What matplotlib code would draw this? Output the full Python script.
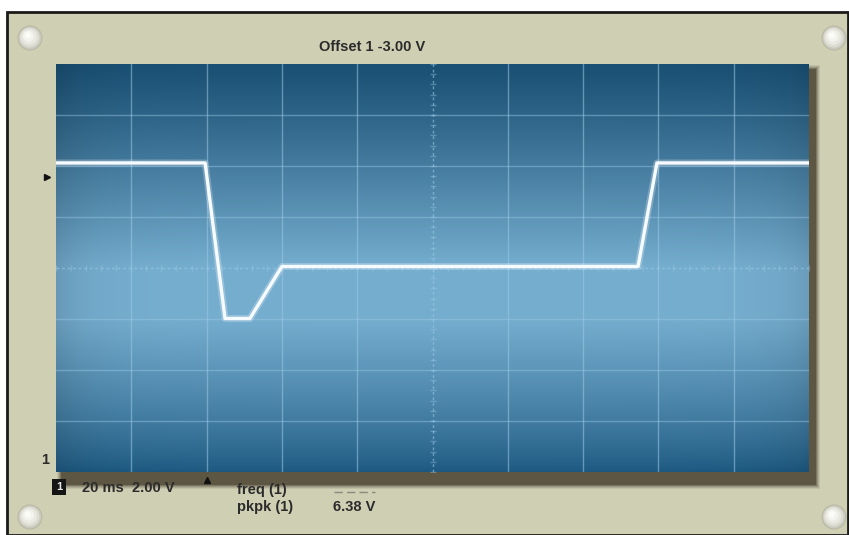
import numpy as np
import matplotlib
matplotlib.use("Agg")
import matplotlib.pyplot as plt
from matplotlib.patches import Rectangle, Circle

# -------------------- trace (time in ms, screen volts)
TIME_MS = [0.0, 39.6, 44.9, 51.5, 60.0, 154.6, 159.6, 200.0]
VOLTS = [4.12, 4.12, -1.98, -1.98, 0.06, 0.06, 4.12, 4.12]

MS_PER_DIV = 20
V_PER_DIV = 2.0
N_XDIV, N_YDIV = 10, 8

TITLE = "Offset 1 -3.00 V"
SCALE_TXT = "20 ms  2.00 V"
MEAS_NAMES = ["freq (1)", "pkpk (1)"]
MEAS_VALUES = ["", "6.38 V"]

W, H = 849, 535
PANEL = "#cfcfb4"
FONT = "Liberation Sans"

fig = plt.figure(figsize=(W / 100, H / 100), dpi=100)
fig.patch.set_facecolor("white")

# -------------------- panel in pixel coordinates
bg = fig.add_axes([0, 0, 1, 1])
bg.set_xlim(0, W)
bg.set_ylim(H, 0)
bg.axis("off")

bg.add_patch(Rectangle((7, 12), W - 8, H - 12, facecolor=PANEL,
                       edgecolor="#1a1a1a", lw=2.0, zorder=0))

# drop shadow under the screen
for i, a in enumerate([0.10, 0.14, 0.2, 0.3, 0.5]):
    d = 5 - i
    bg.add_patch(Rectangle((62 - d, 70 - d), 753 + 2 * d, 414 + 2 * d,
                           facecolor="#3f3726", edgecolor="none",
                           alpha=a, zorder=1))


def screw(x, y):
    bg.add_patch(Circle((x, y), 12.5, facecolor="#a9a996", edgecolor="none",
                        alpha=0.6, zorder=2))
    for r, c in [(11.5, "#c9c9bd"), (10, "#dcdcd2"), (8, "#e9e9e2"),
                 (5.5, "#f4f4ef"), (3, "#fbfbf8")]:
        bg.add_patch(Circle((x - (11.5 - r) * 0.25, y - (11.5 - r) * 0.3), r,
                            facecolor=c, edgecolor="none", zorder=3))


for sx, sy in [(30, 38), (834, 38), (30, 517), (834, 517)]:
    screw(sx, sy)

txt = dict(fontfamily=FONT, fontsize=10.5, fontweight="bold",
           color="#2b2b2b", va="center")
bg.text(372, 47, TITLE, ha="center", **txt)
bg.text(45, 460, "1", ha="center", **txt)
bg.plot([47], [177], marker=">", ms=5, color="#111", zorder=4)

bg.add_patch(Rectangle((52, 479), 14, 16, facecolor="#151515", zorder=4))
bg.text(59, 487.5, "1", ha="center", fontfamily=FONT, fontsize=8,
        fontweight="bold", color="#e8e8e8", va="center", zorder=5)
bg.text(82, 488, SCALE_TXT, ha="left", **txt)
bg.plot([207], [480], marker="^", ms=5, color="#111", zorder=4)

for i, (name, val) in enumerate(zip(MEAS_NAMES, MEAS_VALUES)):
    y = 490 + i * 17
    bg.text(237, y, name, ha="left", **txt)
    if val:
        bg.text(333, y, val, ha="left", **txt)
    else:
        bg.plot([334, 375], [492, 492], color="#8a8a80", lw=1.0,
                dashes=(6, 3), zorder=4)

# -------------------- screen
ax = fig.add_axes([56 / W, 1 - 472 / H, 753 / W, 408 / H])
t_max = MS_PER_DIV * N_XDIV
v_half = V_PER_DIV * N_YDIV / 2
ax.set_xlim(0, t_max)
ax.set_ylim(-v_half, v_half)

# blue glass gradient: dark at top/bottom, light band around the middle
yy = np.linspace(0, 1, 300)[:, None]
xx = np.linspace(0, 1, 400)[None, :]
top = np.array([0x1c, 0x58, 0x80]) / 255
mid = np.array([0x76, 0xae, 0xd0]) / 255
bot = np.array([0x1a, 0x50, 0x74]) / 255
prof = np.where(yy < 0.5,
                np.clip((yy - 0.0) / 0.38, 0, 1) ** 0.8,
                np.clip((1.0 - yy) / 0.5, 0, 1) ** 1.1)
w_top = (yy < 0.5)
img = np.where(w_top[..., None],
               top + (mid - top) * prof[..., None],
               bot + (mid - bot) * prof[..., None])
edge = 1 - 0.12 * np.exp(-xx / 0.04) - 0.10 * np.exp(-(1 - xx) / 0.04)
img = np.clip(img * edge[..., None], 0, 1)
ax.imshow(img, extent=(0, t_max, v_half, -v_half), aspect="auto",
          origin="upper", zorder=0, interpolation="bilinear")
ax.set_ylim(-v_half, v_half)

grid_c = "#9cc8e6"
for k in range(1, N_XDIV):
    x = k * MS_PER_DIV
    if k == N_XDIV // 2:
        ax.axvline(x, color=grid_c, lw=1.0, alpha=0.6, ls=(0, (2, 2)), zorder=1)
    else:
        ax.axvline(x, color=grid_c, lw=1.0, alpha=0.55, zorder=1)
for k in range(1, N_YDIV):
    y = -v_half + k * V_PER_DIV
    if k == N_YDIV // 2:
        ax.axhline(y, color=grid_c, lw=1.0, alpha=0.6, ls=(0, (2, 2)), zorder=1)
    else:
        ax.axhline(y, color=grid_c, lw=1.0, alpha=0.45, zorder=1)

# minor ticks on the centre crosshair
mx = np.arange(0, t_max + 0.1, MS_PER_DIV / 5)
my = np.arange(-v_half, v_half + 0.01, V_PER_DIV / 5)
ax.plot(mx, np.zeros_like(mx), ls="none", marker="|", ms=4, color=grid_c,
        alpha=0.4, zorder=1)
ax.plot(np.full_like(my, t_max / 2), my, ls="none", marker="_", ms=4,
        color=grid_c, alpha=0.4, zorder=1)

# trace with a faint glow
ax.plot(TIME_MS, VOLTS, color="white", lw=5, alpha=0.25, zorder=3,
        solid_joinstyle="round")
ax.plot(TIME_MS, VOLTS, color="#f6fbff", lw=2.4, zorder=4,
        solid_joinstyle="round")

for s in ax.spines.values():
    s.set_visible(False)
ax.set_xticks([])
ax.set_yticks([])

fig.savefig("out.png", dpi=100, facecolor=fig.get_facecolor())
